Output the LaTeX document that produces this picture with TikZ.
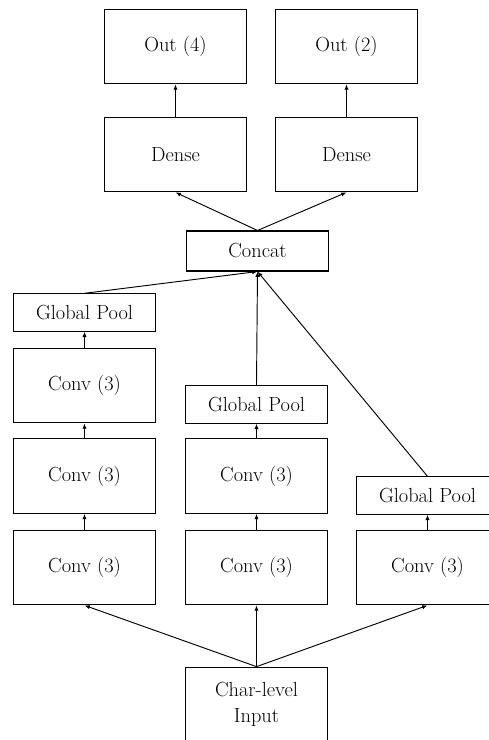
\documentclass[tikz,border=0pt]{standalone}
\usetikzlibrary{arrows.meta}

\begin{document}
\begin{tikzpicture}[x=0.75pt,y=-0.75pt,
  box/.style={draw,line width=0.8pt,minimum width=107pt,minimum height=56pt,inner sep=0pt,align=center,font=\fontsize{15.3}{19}\selectfont},
  flat/.style={box,minimum height=28pt},
  link/.style={line width=0.7pt,-{Latex[length=4pt,width=3.2pt]}}]
\useasboundingbox (0,0) rectangle (489,740);
\clip (0,0) rectangle (489,740);
% outputs
\node[box] (o1) at (175.5,46.5) {Out (4)};
\node[box] (o2) at (346.5,46.5) {Out (2)};
\node[box] (d1) at (175.5,154.5) {Dense};
\node[box] (d2) at (346.5,154.5) {Dense};
\node[box,minimum height=30pt] (cat) at (257.5,251) {Concat};
% branch 1
\node[flat] (g1) at (84.5,312.5) {Global Pool};
\node[box] (c13) at (84.5,385.5) {Conv (3)};
\node[box] (c12) at (84.5,476) {Conv (3)};
\node[box] (c11) at (84.5,567.5) {Conv (3)};
% branch 2
\node[flat] (g2) at (256.5,404.5) {Global Pool};
\node[box] (c22) at (256.5,476) {Conv (3)};
\node[box] (c21) at (256.5,567.5) {Conv (3)};
% branch 3
\node[flat] (g3) at (427.5,495.5) {Global Pool};
\node[box] (c31) at (427.5,567.5) {Conv (3)};
% input
\node[box] (in) at (256.5,704.5) {Char-level\\Input};

\draw[link] (in.north) -- (c11.south);
\draw[link] (in.north) -- (c21.south);
\draw[link] (in.north) -- (c31.south);
\draw[link] (c11) -- (c12);
\draw[link] (c12) -- (c13);
\draw[link] (c13) -- (g1);
\draw[link] (c21) -- (c22);
\draw[link] (c22) -- (g2);
\draw[link] (c31) -- (g3);
\draw[link] (g1.north) -- (cat.south);
\draw[link] (g2.north) -- (cat.south);
\draw[link] (g3.north) -- (cat.south);
\draw[link] (cat.north) -- (d1.south);
\draw[link] (cat.north) -- (d2.south);
\draw[link] (d1) -- (o1);
\draw[link] (d2) -- (o2);
\end{tikzpicture}
\end{document}
